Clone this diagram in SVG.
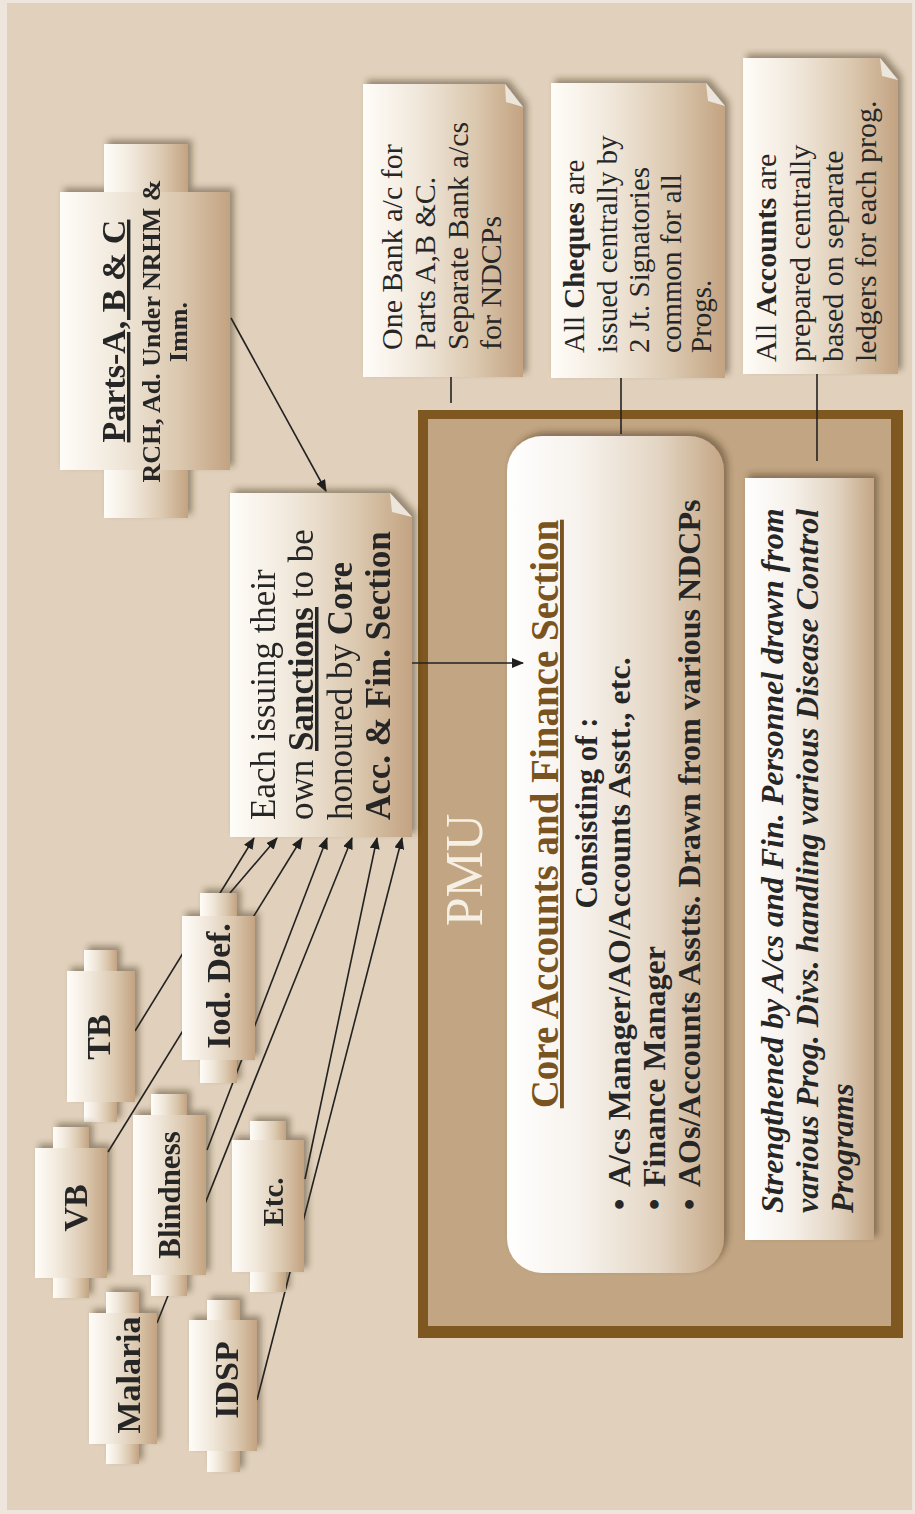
<svg xmlns="http://www.w3.org/2000/svg" width="915" height="1514" viewBox="0 0 915 1514">
<defs>
<linearGradient id="gPaper" x1="0" y1="0" x2="1" y2="0">
<stop offset="0" stop-color="#FFFDF9"/><stop offset="0.35" stop-color="#F0E7DA"/><stop offset="0.7" stop-color="#DBC8AF"/><stop offset="1" stop-color="#C3A381"/>
</linearGradient>
<linearGradient id="gCore" x1="0" y1="0" x2="1" y2="0">
<stop offset="0" stop-color="#FFFFFF"/><stop offset="0.35" stop-color="#F6F1EB"/><stop offset="0.7" stop-color="#E3D5C3"/><stop offset="1" stop-color="#C4A684"/>
</linearGradient>
<filter id="sh" x="-30%" y="-30%" width="160%" height="160%">
<feDropShadow dx="4" dy="-4" stdDeviation="3" flood-color="#3a2a18" flood-opacity="0.45"/>
</filter>
<marker id="ah" viewBox="0 0 12 10" refX="11" refY="5" markerWidth="12" markerHeight="10" markerUnits="userSpaceOnUse" orient="auto">
<path d="M0,0 L12,5 L0,10 z" fill="#1f1f1f"/>
</marker>
</defs>
<style>
.t{font-family:"Liberation Serif","Times New Roman",serif;fill:#262626}
.b{font-weight:bold}
.i{font-style:italic}
.u{text-decoration:underline}
.br{fill:#7A5420}
.pmu{fill:#F6EFE4}
.ln{stroke:#222;stroke-width:1.6;fill:none}
.pp{fill:url(#gPaper)}
.flap{fill:#ECE5DC}
</style>

<rect x="0" y="0" width="915" height="1514" fill="#EEE6DC"/>
<rect x="7" y="3" width="905" height="1507" fill="#E1D1BC"/>

<g id="pmu">
<rect x="418" y="410" width="485" height="928" fill="#7E5721"/>
<rect x="428" y="419" width="463" height="907" fill="#C2A583"/>
<text class="t pmu" font-size="52" text-anchor="middle" transform="translate(482,870) rotate(-90)">PMU</text>
</g>

<g id="core" filter="url(#sh)">
<rect x="507" y="436" width="217" height="837" rx="35" fill="url(#gCore)"/>
</g>
<g id="core-text">
<text class="t b u br" font-size="39" text-anchor="middle" transform="translate(558,814) rotate(-90)">Core Accounts and Finance Section</text>
<text class="t b" font-size="31" text-anchor="middle" transform="translate(597,813) rotate(-90)">Consisting of :</text>
<text class="t b" font-size="32" transform="translate(630,1210) rotate(-90)"><tspan x="0">•</tspan><tspan x="23">A/cs Manager/AO/Accounts Asstt., etc.</tspan></text>
<text class="t b" font-size="32" transform="translate(665,1210) rotate(-90)"><tspan x="0">•</tspan><tspan x="23">Finance Manager</tspan></text>
<text class="t b" font-size="32" transform="translate(700,1210) rotate(-90)"><tspan x="0">•</tspan><tspan x="23">AOs/Accounts Asstts. Drawn from various NDCPs</tspan></text>
</g>

<g id="strengthened">
<rect x="745" y="478" width="129" height="762" fill="url(#gCore)" filter="url(#sh)"/>
<text class="t b i" font-size="32" transform="translate(783,1213) rotate(-90)"><tspan x="0" y="0">Strengthened by A/cs and Fin. Personnel drawn from</tspan><tspan x="0" y="35">various Prog. Divs. handling various Disease Control</tspan><tspan x="0" y="70">Programs</tspan></text>
</g>

<g id="connectors">
<line class="ln" x1="135" y1="1031" x2="254" y2="838" marker-end="url(#ah)"/>
<line class="ln" x1="230" y1="893" x2="277" y2="838" marker-end="url(#ah)"/>
<line class="ln" x1="108" y1="1152" x2="302" y2="838" marker-end="url(#ah)"/>
<line class="ln" x1="207" y1="1150" x2="327" y2="838" marker-end="url(#ah)"/>
<line class="ln" x1="157" y1="1323" x2="352" y2="838" marker-end="url(#ah)"/>
<line class="ln" x1="305" y1="1179" x2="377" y2="838" marker-end="url(#ah)"/>
<line class="ln" x1="257" y1="1400" x2="402" y2="838" marker-end="url(#ah)"/>
<line class="ln" x1="231" y1="318" x2="326" y2="491" marker-end="url(#ah)"/>
<line class="ln" x1="412" y1="663" x2="523" y2="663" marker-end="url(#ah)"/>
<line class="ln" x1="451" y1="377" x2="451" y2="403"/>
<line class="ln" x1="621" y1="378" x2="621" y2="434"/>
<line class="ln" x1="817" y1="374" x2="817" y2="461"/>
</g>

<g id="tb" filter="url(#sh)">
<rect class="pp" x="84" y="950" width="33" height="172"/>
<rect class="pp" x="67" y="971" width="68" height="131"/>
<text class="t b" font-size="34" text-anchor="middle" transform="translate(110,1037) rotate(-90)">TB</text>
</g>
<g id="vb" filter="url(#sh)">
<rect class="pp" x="53" y="1127" width="36" height="171"/>
<rect class="pp" x="35" y="1148" width="72" height="130"/>
<text class="t b" font-size="34" text-anchor="middle" transform="translate(87,1208) rotate(-90)">VB</text>
</g>
<g id="malaria" filter="url(#sh)">
<rect class="pp" x="106" y="1292" width="33" height="172"/>
<rect class="pp" x="89" y="1313" width="68" height="131"/>
<text class="t b" font-size="34" text-anchor="middle" transform="translate(140,1375) rotate(-90)">Malaria</text>
</g>
<g id="blindness" filter="url(#sh)">
<rect class="pp" x="151" y="1094" width="36" height="202"/>
<rect class="pp" x="133" y="1115" width="73" height="160"/>
<text class="t b" font-size="31" text-anchor="middle" transform="translate(180,1195) rotate(-90)">Blindness</text>
</g>
<g id="ioddef" filter="url(#sh)">
<rect class="pp" x="200" y="893" width="37" height="190"/>
<rect class="pp" x="182" y="916" width="73" height="144"/>
<text class="t b" font-size="34" text-anchor="middle" transform="translate(230,986) rotate(-90)">Iod. Def.</text>
</g>
<g id="etc" filter="url(#sh)">
<rect class="pp" x="250" y="1121" width="36" height="171"/>
<rect class="pp" x="232" y="1140" width="72" height="132"/>
<text class="t b" font-size="29" text-anchor="middle" transform="translate(283,1202) rotate(-90)">Etc.</text>
</g>
<g id="idsp" filter="url(#sh)">
<rect class="pp" x="207" y="1300" width="33" height="172"/>
<rect class="pp" x="189" y="1320" width="68" height="131"/>
<text class="t b" font-size="34" text-anchor="middle" transform="translate(238,1380) rotate(-90)">IDSP</text>
</g>

<g id="parts" filter="url(#sh)">
<rect class="pp" x="104" y="144" width="84" height="374"/>
<rect class="pp" x="60" y="192" width="170" height="278"/>
<text class="t b u" font-size="34" text-anchor="middle" transform="translate(125,331) rotate(-90)">Parts-A, B &amp; C</text>
<text class="t b" font-size="26" text-anchor="middle" transform="translate(160,331) rotate(-90)">RCH, Ad. Under NRHM &amp;</text>
<text class="t b" font-size="26" text-anchor="middle" transform="translate(187,332) rotate(-90)">Imm.</text>
</g>

<g id="note-bank">
<polygon class="pp" points="363,84 505,84 523,107 523,377 363,377" filter="url(#sh)"/>
<polygon class="flap" points="505,84 523,107 506,102"/>
<text class="t" font-size="30" transform="translate(402,350) rotate(-90)"><tspan x="0" y="0">One Bank a/c for</tspan><tspan x="0" y="33">Parts A,B &amp;C.</tspan><tspan x="0" y="66">Separate Bank a/cs</tspan><tspan x="0" y="99">for NDCPs</tspan></text>
</g>

<g id="note-cheques">
<polygon class="pp" points="551,83 706,83 725,106 725,378 551,378" filter="url(#sh)"/>
<polygon class="flap" points="706,83 725,106 708,101"/>
<text class="t" font-size="29" transform="translate(584,353) rotate(-90)"><tspan x="0" y="0">All <tspan class="b">Cheques</tspan> are</tspan><tspan x="0" y="33">issued centrally by</tspan><tspan x="0" y="65">2 Jt. Signatories</tspan><tspan x="0" y="97">common for all</tspan><tspan x="0" y="127">Progs.</tspan></text>
</g>

<g id="note-accounts">
<polygon class="pp" points="743,58 880,58 898,80 898,374 743,374" filter="url(#sh)"/>
<polygon class="flap" points="880,58 898,80 882,76"/>
<text class="t" font-size="30" transform="translate(776,362) rotate(-90)"><tspan x="0" y="0">All <tspan class="b">Accounts</tspan> are</tspan><tspan x="0" y="34">prepared centrally</tspan><tspan x="0" y="67">based on separate</tspan><tspan x="0" y="100">ledgers for each prog.</tspan></text>
</g>

<g id="note-sanctions">
<polygon class="pp" points="230,493 390,493 412,517 412,837 230,837" filter="url(#sh)"/>
<polygon class="flap" points="390,493 412,517 392,512"/>
<text class="t" font-size="35" transform="translate(275,820) rotate(-90)"><tspan x="0" y="0">Each issuing their</tspan><tspan x="0" y="38">own <tspan class="b u">Sanctions</tspan> to be</tspan><tspan x="0" y="77">honoured by <tspan class="b">Core</tspan></tspan><tspan x="0" y="115" class="b">Acc. &amp; Fin. Section</tspan></text>
</g>
</svg>
